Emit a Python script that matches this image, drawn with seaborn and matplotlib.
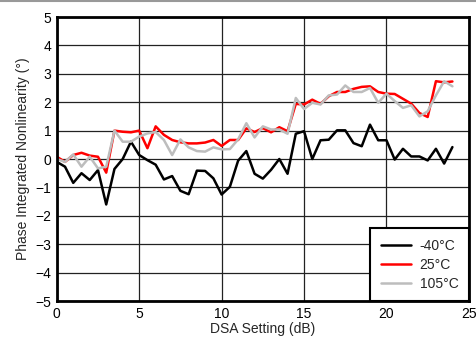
import numpy as np
import pandas as pd
import matplotlib
matplotlib.use("Agg")
import matplotlib.pyplot as plt
from matplotlib.lines import Line2D
import seaborn as sns

# DSA setting steps (dB)
dsa = [i * 0.5 for i in range(49)]

# Phase integrated nonlinearity (deg) per temperature
m40c = [-0.1, -0.27, -0.84, -0.5, -0.74, -0.39, -1.6, -0.35, 0.0, 0.61,
        0.14, -0.04, -0.2, -0.72, -0.6, -1.12, -1.24, -0.41, -0.42, -0.68,
        -1.25, -0.98, -0.06, 0.28, -0.52, -0.69, -0.38, 0.0, -0.52, 0.89,
        0.98, 0.0, 0.66, 0.68, 1.01, 1.01, 0.56, 0.45, 1.21, 0.66,
        0.66, -0.02, 0.36, 0.09, 0.09, -0.05, 0.36, -0.16, 0.42]
p25c = [0.08, -0.1, 0.14, 0.22, 0.12, 0.08, -0.48, 1.0, 0.96, 0.94,
        1.0, 0.38, 1.15, 0.85, 0.67, 0.59, 0.55, 0.55, 0.58, 0.67,
        0.46, 0.67, 0.67, 1.08, 0.95, 1.09, 0.94, 1.12, 0.98, 1.94,
        1.92, 2.09, 1.94, 2.21, 2.36, 2.36, 2.47, 2.54, 2.56, 2.36,
        2.3, 2.29, 2.12, 1.95, 1.62, 1.48, 2.74, 2.7, 2.73]
p105c = [0.0, -0.1, 0.16, -0.27, 0.08, -0.33, -0.27, 1.0, 0.61, 0.61,
         0.79, 0.9, 0.95, 0.67, 0.14, 0.69, 0.41, 0.28, 0.26, 0.41,
         0.34, 0.35, 0.69, 1.26, 0.76, 1.15, 1.04, 1.04, 0.89, 2.15,
         1.76, 1.98, 1.92, 2.24, 2.27, 2.59, 2.36, 2.36, 2.5, 1.98,
         2.3, 2.04, 1.8, 1.89, 1.5, 1.68, 2.24, 2.74, 2.56]

labels = ["-40°C", "25°C", "105°C"]
colors = ["black", "#ff0000", "#bdbdbd"]

df = pd.concat([
    pd.DataFrame({"dsa": dsa, "val": v, "temp": lab})
    for v, lab in zip([m40c, p25c, p105c], labels)
])

sns.set_style("white")
plt.rcParams["font.family"] = ["Liberation Sans", "DejaVu Sans"]

fig = plt.figure(figsize=(4.77, 3.43), dpi=100)
ax = fig.add_axes([0.119, 0.1224, 0.864, 0.828])

sns.lineplot(data=df, x="dsa", y="val", hue="temp", hue_order=labels,
             palette=colors, linewidth=1.8, ax=ax)

ax.set_xlim(0, 25)
ax.set_ylim(-5, 5)
ax.set_xticks(range(0, 26, 5))
ax.set_yticks(range(-5, 6))
ax.grid(True, color="#222222", linewidth=0.9)
ax.set_axisbelow(True)
ax.tick_params(length=0, labelsize=10, colors="black", pad=4)
for s in ax.spines.values():
    s.set_visible(True)
    s.set_color("black")
    s.set_linewidth(2)

ax.set_xlabel("DSA Setting (dB)", fontsize=10, labelpad=1)
ax.set_ylabel("Phase Integrated Nonlinearity (°)", fontsize=10, labelpad=4)

leg = ax.legend(loc="lower right", fontsize=10, frameon=True, fancybox=False,
                handlelength=2.2, borderaxespad=0, labelspacing=0.35,
                borderpad=0.75, handletextpad=0.6)
leg.get_frame().set_edgecolor("black")
leg.get_frame().set_linewidth(1.5)
leg.get_frame().set_alpha(1)

fig.add_artist(Line2D([0, 1], [0.997, 0.997], color="#999999", linewidth=1.5))

fig.savefig("out.png", dpi=100)
